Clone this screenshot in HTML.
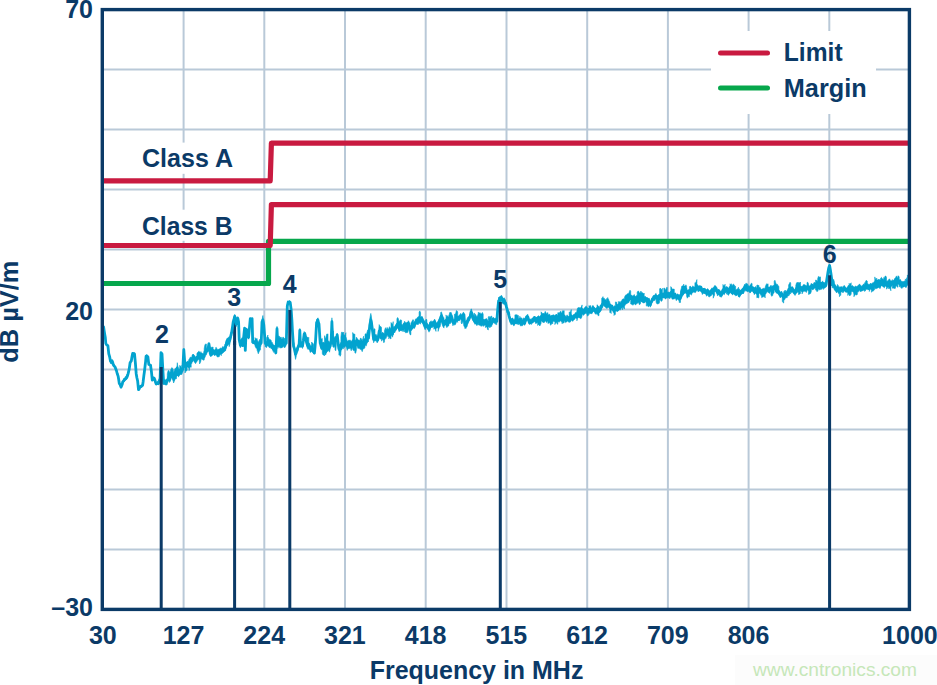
<!DOCTYPE html>
<html><head><meta charset="utf-8"><title>chart</title>
<style>
html,body{margin:0;padding:0;background:#fff;}
body{width:937px;height:685px;overflow:hidden;font-family:"Liberation Sans",sans-serif;}
svg{display:block;}
text{font-family:"Liberation Sans",sans-serif;font-weight:bold;font-size:25px;fill:#0b3a67;}
</style></head><body>
<svg width="937" height="685" viewBox="0 0 937 685">
<rect width="937" height="685" fill="#fff"/>
<g stroke="#b9c9d8" stroke-width="2" fill="none">
<line x1="183.6" y1="9.6" x2="183.6" y2="609.4"/>
<line x1="102.3" y1="69.6" x2="909.4" y2="69.6"/>
<line x1="264.3" y1="9.6" x2="264.3" y2="609.4"/>
<line x1="102.3" y1="129.6" x2="909.4" y2="129.6"/>
<line x1="345.0" y1="9.6" x2="345.0" y2="609.4"/>
<line x1="102.3" y1="189.5" x2="909.4" y2="189.5"/>
<line x1="425.7" y1="9.6" x2="425.7" y2="609.4"/>
<line x1="102.3" y1="249.5" x2="909.4" y2="249.5"/>
<line x1="506.5" y1="9.6" x2="506.5" y2="609.4"/>
<line x1="102.3" y1="309.5" x2="909.4" y2="309.5"/>
<line x1="587.2" y1="9.6" x2="587.2" y2="609.4"/>
<line x1="102.3" y1="369.5" x2="909.4" y2="369.5"/>
<line x1="667.9" y1="9.6" x2="667.9" y2="609.4"/>
<line x1="102.3" y1="429.5" x2="909.4" y2="429.5"/>
<line x1="748.6" y1="9.6" x2="748.6" y2="609.4"/>
<line x1="102.3" y1="489.4" x2="909.4" y2="489.4"/>
<line x1="829.3" y1="9.6" x2="829.3" y2="609.4"/>
<line x1="102.3" y1="549.4" x2="909.4" y2="549.4"/>
</g>
<!-- white label backgrounds -->
<rect x="711" y="31" width="165" height="83" fill="#fff"/>
<rect x="138" y="142.6" width="98" height="31.2" fill="#fff"/>
<rect x="138" y="209.7" width="98" height="31.1" fill="#fff"/>
<!-- margin -->
<path d="M102.3 283.5 L268.5 283.5 L268.5 241.3 L909.4 241.3" fill="none" stroke="#06a74c" stroke-width="5.2" stroke-linejoin="round"/>
<!-- class A / B limits -->
<path d="M102.3 180.8 L270.2 180.8 L271.4 143.1 L909.4 143.1" fill="none" stroke="#c91a40" stroke-width="5.2" stroke-linejoin="round"/>
<path d="M102.3 245.5 L270.2 245.5 L271.4 204.6 L909.4 204.6" fill="none" stroke="#c91a40" stroke-width="5.2" stroke-linejoin="round"/>
<line x1="234.6" y1="318" x2="234.6" y2="345" stroke="#0b3a67" stroke-width="3"/>
<!-- trace -->
<path d="M103.6 326.2 L104.1 328.9 L104.7 332.8 L105.3 335.9 L105.3 337.1 L105.8 343.0 L106.5 344.2 L107.2 344.8 L107.9 345.3 L108.8 353.5 L108.8 353.1 L109.7 355.9 L110.5 360.0 L111.1 360.6 L111.7 360.3 L111.7 359.6 L112.3 359.5 L113.0 361.9 L113.0 362.6 L113.8 364.4 L114.5 365.5 L114.5 365.5 L115.2 366.5 L115.8 368.3 L116.4 369.8 L116.4 369.5 L117.2 372.7 L118.1 375.4 L118.7 379.0 L119.3 382.5 L120.2 384.0 L120.2 384.0 L121.0 386.2 L121.6 385.1 L122.2 383.1 L122.2 383.1 L122.8 380.6 L123.6 379.8 L123.6 379.0 L124.3 378.1 L125.1 377.4 L125.1 376.8 L125.9 376.5 L126.6 375.0 L127.4 373.6 L127.4 374.8 L128.0 372.7 L128.6 370.5 L129.2 368.5 L130.1 362.1 L130.1 362.3 L130.7 361.3 L131.3 360.2 L132.0 356.0 L132.7 352.6 L132.7 353.0 L133.3 353.3 L133.9 353.3 L133.9 353.3 L134.5 353.5 L135.4 362.8 L136.2 373.0 L136.9 377.2 L136.9 377.2 L137.6 380.3 L138.5 388.5 L139.1 387.7 L139.7 386.4 L140.3 385.4 L140.3 385.3 L141.1 385.5 L141.8 384.5 L142.6 384.2 L142.6 385.0 L143.2 380.8 L143.8 375.7 L144.4 371.2 L144.4 370.6 L145.0 365.8 L145.6 360.5 L146.1 355.3 L146.7 354.7 L147.3 355.7 L147.3 356.3 L147.9 356.5 L148.8 364.1 L149.7 364.4 L150.5 364.7 L150.5 364.7 L151.4 371.1 L152.3 379.2 L153.0 377.8 L153.0 377.7 L153.6 377.2 L154.3 377.3 L154.9 379.0 L155.5 380.8 L156.1 382.9 L156.1 382.8 L156.9 382.2 L157.6 381.9 L158.4 382.7 L158.4 382.9 L159.2 380.3 L160.1 378.1 L161.0 352.4 L161.0 352.4 L162.0 353.6 L162.8 368.9 L163.7 383.0 L163.7 381.2 L164.4 379.7 L165.1 379.7 L165.1 380.8 L165.9 379.5 L166.6 379.3 L167.3 378.8 L167.3 373.8 L168.0 370.9 L168.7 370.3 L169.4 371.7 L169.4 372.9 L170.1 372.0 L170.9 369.5 L170.9 369.8 L171.8 367.6 L172.4 368.0 L173.0 370.3 L173.0 369.4 L173.6 372.4 L174.3 370.7 L175.1 368.4 L175.8 368.2 L176.5 368.1 L176.5 372.3 L177.3 362.7 L177.9 366.9 L177.9 369.5 L178.5 372.4 L179.1 369.5 L179.7 368.2 L179.7 365.4 L180.5 366.6 L181.2 365.5 L181.2 367.7 L182.0 367.4 L182.8 367.9 L183.8 348.6 L183.8 348.9 L184.4 357.3 L185.0 364.3 L185.7 362.3 L186.4 362.2 L187.1 361.9 L187.1 361.6 L187.8 361.0 L188.5 362.3 L189.1 361.7 L189.1 360.9 L189.8 357.9 L190.5 357.0 L191.2 357.4 L191.2 358.3 L191.8 357.3 L192.5 358.7 L193.1 354.0 L194.0 355.7 L194.7 356.1 L194.7 355.7 L195.5 357.5 L196.2 356.4 L196.9 355.4 L196.9 353.3 L197.7 352.6 L198.4 352.2 L198.4 356.0 L198.9 350.9 L199.6 354.6 L200.3 353.4 L200.9 351.6 L200.9 352.3 L201.6 352.9 L202.2 353.4 L202.9 353.2 L203.5 354.1 L204.2 353.7 L204.2 348.6 L204.9 344.9 L205.6 343.9 L206.4 344.1 L206.4 349.4 L207.1 347.4 L207.8 347.2 L208.4 344.5 L208.4 343.9 L208.9 342.6 L209.6 346.3 L210.2 351.9 L210.2 347.8 L210.9 348.7 L211.7 347.0 L212.4 347.2 L213.1 347.0 L213.1 349.7 L213.7 349.1 L214.4 350.3 L215.0 350.6 L215.7 348.6 L215.7 347.6 L216.3 347.4 L217.0 349.3 L217.7 349.4 L218.4 349.4 L219.1 349.5 L219.1 350.8 L219.8 348.6 L220.6 347.9 L221.3 349.5 L221.3 348.7 L222.0 348.0 L222.7 346.5 L223.4 346.7 L224.1 347.9 L224.9 345.5 L224.9 344.2 L225.6 343.4 L226.4 340.2 L226.4 340.0 L227.1 338.1 L227.8 338.3 L228.5 337.3 L229.2 336.6 L229.2 337.8 L229.9 338.0 L230.8 334.1 L231.6 331.4 L231.6 332.0 L232.4 327.0 L233.2 320.7 L233.9 318.1 L233.9 318.1 L234.7 314.3 L235.7 317.1 L235.7 317.8 L236.2 321.7 L236.9 319.0 L237.8 317.0 L237.8 316.6 L238.6 321.2 L239.2 338.1 L239.8 340.4 L240.4 343.8 L240.4 343.1 L241.0 341.8 L241.6 339.0 L242.2 337.5 L242.2 338.6 L242.7 344.6 L243.3 339.4 L243.3 339.7 L243.9 334.2 L244.6 327.4 L244.6 327.5 L245.3 349.7 L246.2 328.5 L247.2 329.5 L247.2 329.0 L247.9 333.3 L248.6 336.9 L249.4 327.6 L249.4 327.6 L250.3 318.1 L250.9 318.1 L251.5 318.4 L251.5 318.5 L252.1 318.2 L252.7 340.6 L253.5 340.6 L253.5 340.4 L254.2 340.8 L255.0 340.5 L255.0 337.6 L255.7 339.1 L256.3 339.0 L257.0 338.3 L257.0 339.0 L257.6 340.5 L258.3 342.7 L259.0 340.8 L259.8 339.3 L260.5 338.5 L260.5 336.9 L261.2 340.8 L262.0 319.8 L262.9 315.5 L263.8 322.8 L264.5 331.9 L264.5 333.3 L265.2 341.2 L265.9 341.1 L266.6 342.0 L266.6 337.7 L267.2 336.8 L267.9 335.0 L267.9 336.7 L268.6 337.8 L269.2 339.6 L269.9 339.4 L270.6 339.7 L271.3 340.7 L271.3 342.5 L272.0 341.9 L272.8 343.7 L273.5 345.9 L273.5 345.9 L274.2 345.0 L274.9 346.0 L274.9 345.5 L275.8 351.3 L276.3 342.2 L277.0 326.9 L277.0 326.3 L277.8 338.7 L278.5 337.1 L278.5 336.0 L279.2 336.0 L279.9 337.6 L280.7 337.3 L281.4 337.3 L281.4 339.0 L282.1 339.0 L282.8 337.2 L283.5 337.2 L284.2 339.0 L284.9 338.2 L284.9 341.7 L285.6 340.6 L286.3 342.1 L287.3 304.1 L288.2 301.1 L288.9 301.6 L288.9 301.3 L289.5 300.6 L290.2 301.2 L291.2 308.8 L291.2 307.9 L291.9 318.8 L292.5 329.9 L293.5 341.8 L294.2 343.5 L294.2 345.4 L294.8 349.1 L295.5 351.1 L296.2 348.4 L296.2 349.4 L297.0 348.0 L297.7 345.5 L298.4 343.2 L298.4 339.8 L299.2 343.0 L299.8 328.4 L300.5 344.0 L300.5 345.1 L301.2 345.1 L301.8 345.3 L302.5 345.1 L302.5 343.6 L303.4 338.1 L304.2 331.5 L304.2 331.6 L304.8 332.3 L305.4 334.8 L305.4 332.5 L306.0 335.3 L306.7 337.7 L306.7 336.7 L307.4 337.1 L308.1 338.0 L308.8 337.3 L308.8 342.2 L309.5 343.5 L310.2 346.1 L310.9 345.6 L311.6 345.2 L311.6 342.0 L312.3 343.1 L313.0 343.3 L313.7 344.9 L313.7 347.8 L314.4 351.8 L315.0 345.4 L315.6 338.8 L315.6 338.9 L316.6 319.5 L317.2 318.8 L317.9 317.8 L318.4 320.6 L318.4 320.7 L319.0 322.9 L319.6 332.9 L320.2 342.0 L320.2 336.7 L320.9 338.9 L321.6 339.0 L322.3 338.5 L322.3 341.7 L323.0 342.6 L323.8 342.1 L324.5 342.9 L324.5 335.7 L325.2 338.8 L325.9 337.3 L326.6 334.2 L327.3 334.3 L328.0 333.8 L328.0 341.3 L328.8 340.9 L329.5 342.5 L330.2 342.2 L331.2 336.2 L331.2 336.1 L331.9 317.8 L332.7 330.3 L333.5 331.1 L333.5 337.5 L334.2 337.8 L335.0 336.3 L335.0 336.2 L335.8 336.8 L336.5 338.3 L337.2 333.1 L338.0 340.3 L338.9 347.2 L338.9 344.8 L339.5 344.3 L340.2 345.9 L340.9 344.1 L340.9 337.0 L341.5 332.2 L342.2 332.0 L343.0 333.3 L343.7 332.1 L343.7 334.1 L344.4 335.2 L345.2 334.7 L345.9 332.7 L345.9 336.3 L346.6 339.1 L347.2 341.3 L347.2 342.1 L347.9 340.9 L348.5 340.2 L349.2 340.4 L349.2 340.8 L349.9 339.8 L350.5 340.4 L351.2 342.7 L351.9 341.0 L352.7 339.0 L352.7 332.5 L353.4 334.0 L354.2 334.1 L354.9 334.2 L354.9 340.0 L355.7 340.4 L356.4 337.2 L356.4 338.0 L357.1 337.9 L357.9 340.8 L357.9 339.9 L358.6 339.9 L359.3 340.0 L360.1 341.1 L360.1 338.6 L360.8 338.1 L361.5 338.9 L362.2 340.7 L362.9 338.5 L363.6 336.2 L363.6 339.2 L364.3 339.1 L365.0 337.9 L365.0 334.2 L365.7 333.7 L366.4 334.3 L366.4 334.5 L367.1 331.9 L367.8 329.8 L368.5 331.1 L368.5 336.9 L369.1 330.9 L369.8 323.9 L369.8 318.5 L370.8 313.4 L371.4 316.2 L371.9 322.8 L372.8 329.5 L372.8 329.7 L373.6 330.7 L374.3 328.7 L375.0 329.0 L375.0 334.8 L375.7 334.5 L376.3 334.5 L377.0 336.6 L377.7 336.2 L378.4 334.1 L378.4 333.7 L379.2 324.6 L380.0 326.7 L380.8 326.4 L381.5 327.5 L381.5 334.1 L382.3 332.5 L383.0 332.3 L383.8 335.6 L384.5 334.5 L384.5 330.6 L385.2 328.5 L385.9 327.6 L385.9 331.3 L386.6 328.9 L387.3 327.5 L388.0 329.7 L388.8 328.4 L388.8 328.4 L389.5 326.7 L390.3 328.1 L391.0 328.6 L391.0 322.5 L391.8 323.6 L392.5 325.0 L393.2 321.6 L393.2 328.0 L394.0 326.2 L394.7 327.2 L395.4 325.5 L396.2 323.9 L396.9 323.0 L396.9 318.8 L397.6 317.5 L398.3 318.5 L398.9 321.5 L399.6 321.3 L400.3 319.9 L400.3 319.7 L401.0 320.3 L401.6 320.2 L401.6 324.5 L402.3 324.3 L403.0 325.9 L403.7 324.9 L404.3 322.0 L404.3 321.6 L405.0 321.6 L405.6 322.9 L406.3 322.5 L406.3 322.9 L407.0 322.8 L407.6 322.9 L408.3 320.7 L408.3 320.7 L408.9 321.5 L409.6 324.8 L410.2 326.5 L410.9 326.2 L410.9 323.1 L411.6 321.9 L412.2 321.0 L412.9 319.5 L413.5 320.0 L413.5 322.6 L414.2 323.3 L414.9 321.0 L415.5 318.9 L416.2 318.9 L416.9 318.6 L416.9 317.9 L417.6 317.3 L418.4 317.5 L419.1 315.4 L419.1 312.1 L419.8 310.9 L420.6 312.7 L420.6 316.9 L421.3 317.0 L422.0 316.1 L422.7 318.5 L423.4 319.5 L423.4 319.4 L424.1 321.1 L424.8 323.4 L425.5 323.5 L425.5 320.4 L426.2 319.0 L426.9 319.9 L426.9 323.0 L427.6 323.9 L428.3 324.7 L429.0 326.9 L429.7 325.1 L429.7 324.9 L430.4 321.4 L431.1 320.7 L431.8 321.9 L432.5 321.2 L432.5 321.2 L433.2 321.3 L433.9 320.9 L433.9 320.5 L434.6 319.1 L435.3 320.5 L436.0 322.5 L436.0 323.4 L436.7 322.6 L437.4 322.4 L438.1 323.0 L438.1 322.0 L438.8 319.5 L439.4 318.1 L440.1 317.5 L440.7 314.3 L440.7 312.5 L441.4 311.8 L442.0 313.7 L442.6 315.8 L443.3 317.0 L444.0 317.9 L444.0 320.0 L444.6 320.4 L445.3 319.0 L446.0 319.2 L446.0 314.9 L446.6 316.8 L447.3 316.6 L447.9 315.5 L447.9 316.8 L448.6 316.9 L449.2 314.5 L449.9 312.3 L449.9 312.5 L450.6 312.5 L451.2 312.4 L451.8 314.3 L452.4 315.7 L453.0 318.3 L453.0 320.0 L453.7 319.8 L454.4 319.2 L454.4 314.2 L455.0 314.6 L455.7 313.2 L456.4 310.6 L457.1 311.0 L457.7 311.9 L457.7 316.8 L458.4 315.9 L459.1 315.6 L459.1 315.2 L459.8 315.0 L460.5 313.5 L461.2 313.8 L461.2 314.5 L461.8 315.8 L462.5 314.2 L463.2 312.2 L463.9 312.6 L463.9 313.9 L464.8 323.0 L465.5 322.7 L466.1 322.9 L466.1 322.0 L466.8 319.7 L467.5 317.5 L468.1 317.8 L468.8 317.3 L469.5 315.4 L469.5 315.4 L470.3 313.4 L471.0 308.9 L471.6 309.1 L471.6 309.5 L472.3 312.5 L472.9 315.0 L473.6 315.5 L474.2 316.7 L474.2 312.9 L474.9 314.8 L475.6 314.2 L475.6 315.0 L476.2 315.6 L476.9 317.0 L477.5 315.8 L478.2 313.8 L478.2 312.3 L478.9 312.7 L479.5 313.0 L480.2 312.7 L480.2 312.7 L480.9 313.9 L481.7 313.7 L482.4 312.4 L483.2 314.2 L483.2 319.1 L483.9 320.2 L484.7 319.2 L485.4 319.2 L485.4 319.2 L486.1 318.7 L486.9 318.7 L487.6 321.2 L488.3 321.8 L488.3 317.1 L489.1 316.2 L489.8 317.7 L490.4 317.0 L491.1 316.1 L491.8 316.2 L491.8 321.0 L492.4 319.8 L493.1 317.5 L493.1 317.5 L493.9 317.8 L494.6 319.0 L495.3 318.6 L495.3 318.0 L496.1 318.5 L496.8 318.5 L496.8 319.0 L497.4 311.2 L498.0 304.1 L498.0 305.3 L498.6 297.6 L499.2 297.1 L499.2 298.0 L499.9 296.4 L500.6 296.2 L501.2 295.6 L501.2 295.4 L501.9 295.7 L502.7 298.0 L503.4 298.7 L503.4 298.6 L504.1 297.7 L504.9 299.5 L505.6 301.3 L506.3 304.4 L507.0 307.5 L507.0 307.5 L507.7 309.5 L508.4 310.8 L508.4 310.8 L509.1 314.4 L510.0 317.8 L510.0 317.3 L510.8 318.5 L511.5 318.8 L511.5 318.6 L512.2 318.1 L512.9 318.1 L513.6 320.1 L514.2 320.0 L514.9 317.9 L514.9 314.9 L515.6 314.8 L516.3 315.0 L517.0 314.5 L517.7 315.5 L518.4 315.5 L518.4 319.4 L519.1 317.7 L519.8 318.5 L519.8 316.2 L520.5 318.2 L521.2 318.0 L521.9 317.9 L521.9 319.5 L522.6 319.4 L523.3 317.9 L524.0 318.4 L524.8 319.0 L525.5 316.6 L525.5 316.9 L526.3 315.4 L527.0 315.2 L527.8 314.2 L527.8 314.8 L528.6 318.1 L529.3 319.7 L530.1 319.1 L530.8 319.2 L531.5 319.6 L531.5 318.9 L532.2 317.9 L532.9 317.9 L532.9 318.5 L533.6 317.8 L534.3 316.1 L535.0 317.2 L535.0 316.3 L535.7 318.0 L536.4 317.1 L536.4 317.4 L537.0 316.8 L537.7 316.8 L537.7 316.8 L538.4 315.7 L539.1 316.0 L539.8 317.3 L540.5 316.0 L541.1 314.6 L541.1 311.8 L541.8 312.8 L542.5 313.4 L543.2 313.6 L543.2 313.0 L543.9 314.0 L544.5 313.3 L545.2 311.4 L545.9 312.1 L545.9 313.0 L546.6 314.0 L547.2 313.0 L547.9 312.6 L547.9 314.9 L548.6 314.8 L549.3 313.9 L549.9 314.7 L549.9 314.9 L550.6 316.9 L551.3 316.2 L552.0 314.9 L552.8 315.4 L552.8 315.2 L553.5 314.8 L554.2 314.9 L554.9 315.8 L554.9 316.7 L555.6 315.1 L556.4 314.2 L557.1 316.0 L557.8 316.5 L557.8 312.7 L558.5 312.7 L559.3 313.2 L560.0 311.7 L560.7 311.5 L560.7 311.2 L561.4 313.0 L562.1 312.4 L562.1 311.8 L562.8 310.5 L563.5 310.9 L564.2 310.7 L564.2 314.4 L564.9 314.9 L565.7 316.9 L566.4 316.3 L567.1 314.8 L567.1 315.1 L567.8 316.0 L568.5 316.4 L569.2 315.9 L569.2 311.9 L569.9 312.5 L570.6 311.4 L571.3 309.6 L571.3 314.0 L572.0 315.3 L572.7 316.0 L573.4 314.6 L573.4 314.9 L574.1 314.5 L574.8 313.8 L575.5 312.4 L576.2 313.1 L576.9 313.1 L576.9 310.7 L577.6 308.1 L578.3 307.4 L579.1 307.9 L579.8 307.6 L580.6 308.6 L580.6 307.5 L581.3 307.1 L582.1 304.9 L582.1 307.8 L582.8 308.5 L583.5 309.3 L584.2 308.3 L584.2 307.9 L584.8 307.6 L585.5 307.2 L586.2 305.8 L586.2 306.4 L586.9 307.3 L587.5 309.2 L588.2 308.5 L588.9 307.6 L588.9 305.5 L589.6 306.1 L590.2 305.7 L590.9 305.7 L590.9 307.1 L591.6 308.2 L592.3 307.2 L593.0 305.2 L593.0 305.9 L593.6 306.6 L594.3 307.8 L595.0 307.6 L595.0 307.7 L595.7 308.4 L596.3 308.5 L597.0 307.0 L597.0 304.7 L597.7 305.3 L598.4 306.9 L599.0 306.0 L599.0 308.7 L599.7 307.5 L600.4 307.5 L601.0 305.0 L601.7 303.2 L601.7 298.2 L602.4 298.2 L603.0 296.6 L603.0 299.1 L603.7 297.8 L604.4 298.4 L605.0 299.7 L605.7 299.7 L606.4 300.4 L606.4 298.7 L607.1 299.1 L607.7 297.5 L607.7 298.9 L608.4 298.8 L609.1 301.0 L609.8 301.7 L609.8 303.8 L610.5 303.8 L611.2 304.8 L611.2 305.5 L611.9 305.2 L612.6 305.5 L613.3 307.8 L614.0 307.7 L614.0 307.1 L614.7 305.6 L615.4 306.2 L615.4 301.9 L616.1 302.5 L616.8 301.8 L616.8 303.6 L617.5 304.4 L618.2 303.5 L618.9 301.2 L618.9 301.7 L619.6 302.0 L620.3 302.5 L621.0 301.2 L621.0 301.4 L621.7 300.7 L622.4 299.3 L622.4 300.9 L623.1 298.6 L623.8 299.1 L624.5 300.1 L624.5 297.2 L625.2 295.8 L625.9 294.8 L626.5 294.9 L627.2 294.0 L627.9 294.1 L627.9 293.2 L628.6 293.9 L629.3 291.7 L630.0 290.2 L630.7 291.2 L630.7 295.0 L631.5 295.3 L632.2 295.4 L632.9 296.4 L633.6 295.2 L634.3 294.9 L634.3 294.5 L635.0 296.6 L635.8 296.7 L636.5 295.5 L637.2 295.5 L637.2 292.1 L637.9 291.2 L638.6 291.1 L639.3 293.1 L640.0 292.9 L640.7 291.6 L640.7 291.1 L641.4 292.0 L642.1 292.7 L642.8 292.8 L643.5 293.8 L644.2 293.1 L644.2 298.0 L644.9 296.0 L645.6 296.8 L646.3 298.0 L646.3 298.0 L647.0 297.4 L647.7 297.8 L648.4 298.6 L649.0 298.4 L649.0 297.9 L649.6 299.6 L650.3 302.2 L651.0 300.3 L651.8 297.9 L652.5 297.2 L652.5 297.2 L653.2 295.6 L654.0 295.3 L654.7 295.5 L654.7 295.6 L655.4 293.9 L656.1 293.3 L656.1 293.8 L656.8 295.4 L657.5 295.6 L658.2 295.3 L658.9 295.5 L659.6 293.7 L659.6 289.0 L660.3 288.0 L661.0 289.6 L661.7 289.6 L662.4 288.3 L662.4 292.6 L663.1 292.9 L663.8 292.6 L663.8 288.1 L664.5 288.0 L665.2 289.8 L665.9 289.5 L666.6 287.4 L667.3 287.5 L667.3 291.9 L668.0 292.3 L668.7 291.9 L669.4 292.6 L670.1 292.4 L670.8 290.8 L670.8 286.6 L671.5 287.6 L672.2 289.3 L672.9 289.1 L673.6 289.1 L674.3 289.2 L674.3 294.0 L675.0 292.9 L675.7 293.9 L676.4 295.6 L676.4 295.3 L677.1 294.3 L677.8 293.8 L678.5 295.2 L679.2 295.6 L679.2 294.7 L679.9 294.4 L680.5 294.7 L680.5 290.9 L681.2 288.8 L681.8 286.1 L682.5 285.9 L683.1 285.7 L683.8 284.1 L683.8 285.8 L684.5 286.0 L685.2 285.9 L685.9 284.8 L686.6 286.2 L686.6 289.3 L687.3 291.2 L688.0 290.2 L688.7 289.5 L689.4 289.7 L689.4 286.8 L690.1 286.1 L690.8 286.6 L691.5 287.3 L691.5 289.2 L692.2 287.3 L692.8 285.8 L693.5 286.7 L694.2 286.9 L694.9 286.5 L694.9 282.7 L695.5 283.0 L696.2 281.7 L696.9 279.6 L696.9 283.8 L697.6 285.1 L698.3 286.3 L698.9 285.5 L698.9 285.8 L699.6 285.7 L700.3 286.1 L701.0 285.7 L701.6 287.1 L702.3 289.2 L702.3 289.6 L703.0 288.8 L703.7 288.0 L704.3 289.0 L704.3 288.2 L705.0 288.6 L705.6 288.7 L706.3 290.0 L706.3 289.9 L707.0 289.8 L707.6 288.5 L708.3 289.7 L709.0 291.1 L709.7 290.5 L709.7 290.4 L710.4 290.1 L711.1 289.7 L711.1 289.7 L711.8 287.9 L712.5 287.9 L713.2 289.0 L713.2 289.0 L713.9 287.3 L714.6 285.8 L714.6 285.5 L715.3 285.7 L716.0 286.2 L716.7 287.4 L717.3 289.6 L717.3 290.5 L718.0 290.2 L718.7 289.1 L719.4 290.5 L720.0 291.6 L720.7 291.5 L720.7 290.7 L721.4 291.5 L722.1 290.0 L722.9 287.8 L722.9 284.5 L723.6 285.4 L724.3 286.0 L725.1 284.2 L725.1 287.4 L725.8 286.7 L726.5 286.6 L726.5 287.3 L727.2 286.7 L727.9 288.2 L728.6 288.5 L729.3 286.5 L730.0 286.6 L730.0 283.8 L730.7 285.0 L731.4 285.2 L731.4 283.7 L732.1 284.9 L732.8 285.4 L733.5 283.9 L733.5 284.4 L734.2 284.8 L734.9 286.6 L735.6 286.2 L735.6 289.9 L736.3 289.4 L737.0 289.7 L737.0 289.4 L737.7 288.5 L738.4 289.4 L738.4 287.2 L739.1 289.6 L739.8 289.3 L739.8 291.9 L740.5 290.1 L741.1 289.9 L741.8 289.3 L741.8 289.0 L742.5 288.0 L743.1 288.2 L743.1 288.6 L743.8 287.4 L744.4 284.6 L745.1 284.0 L745.8 285.8 L745.8 283.3 L746.5 283.4 L747.2 283.8 L747.9 284.3 L747.9 286.7 L748.6 285.5 L749.3 286.0 L750.0 287.8 L750.0 285.3 L750.7 284.4 L751.4 283.2 L752.1 283.6 L752.1 286.6 L752.8 286.3 L753.5 287.0 L754.1 289.0 L754.1 288.0 L754.8 287.8 L755.5 286.5 L756.2 287.5 L756.8 288.5 L756.8 285.3 L757.5 285.1 L758.2 285.6 L758.9 285.3 L758.9 288.6 L759.5 286.9 L760.2 287.6 L760.9 289.7 L761.6 289.2 L761.6 289.3 L762.4 288.8 L763.1 289.0 L763.8 287.9 L764.5 288.6 L765.2 289.6 L765.2 287.1 L766.0 284.9 L766.7 283.7 L767.4 284.2 L768.1 283.8 L768.1 286.6 L768.9 287.3 L769.6 287.8 L770.3 286.1 L770.9 285.8 L770.9 285.0 L771.6 286.6 L772.2 286.5 L772.9 285.5 L772.9 286.2 L773.6 286.1 L774.2 284.9 L774.2 281.4 L774.9 280.2 L775.6 282.5 L776.2 284.4 L776.9 284.0 L777.5 284.4 L777.5 284.4 L778.2 285.9 L778.9 286.3 L778.9 290.0 L779.5 291.2 L780.2 293.0 L780.9 292.1 L781.6 291.1 L782.3 292.8 L782.3 292.7 L783.0 293.9 L783.7 294.4 L783.7 291.6 L784.4 291.6 L785.1 290.1 L785.1 292.2 L785.8 290.5 L786.5 291.5 L787.2 291.4 L787.2 291.2 L787.9 288.8 L788.6 287.6 L788.6 285.0 L789.3 283.8 L790.0 282.2 L790.7 282.9 L790.7 286.2 L791.5 287.5 L792.2 286.4 L792.2 286.5 L793.0 287.8 L793.7 289.2 L794.5 289.7 L794.5 289.0 L795.2 289.4 L795.8 288.1 L795.8 285.3 L796.5 283.0 L797.1 283.2 L797.1 282.1 L797.8 283.1 L798.5 282.3 L798.5 283.4 L799.1 282.8 L799.8 282.8 L800.5 282.0 L800.5 285.3 L801.2 285.9 L802.0 287.7 L802.0 287.2 L802.7 286.0 L803.4 284.5 L804.1 284.9 L804.9 284.4 L804.9 284.7 L805.6 285.3 L806.3 286.3 L807.0 284.8 L807.0 282.5 L807.8 282.2 L808.5 284.0 L808.5 286.3 L809.2 286.1 L809.9 285.6 L810.6 285.4 L811.3 283.4 L811.3 284.2 L812.0 283.7 L812.7 285.2 L813.4 284.6 L813.4 283.6 L814.2 282.3 L814.9 282.7 L815.6 282.4 L815.6 280.0 L816.3 280.1 L817.0 281.5 L817.7 280.2 L817.7 278.6 L818.4 276.4 L819.1 276.8 L819.8 277.2 L820.5 276.9 L820.5 281.7 L821.2 282.6 L821.9 281.9 L822.6 280.9 L823.3 282.7 L823.3 282.0 L824.0 283.3 L824.7 282.3 L825.4 282.1 L826.1 281.9 L826.1 283.8 L826.7 279.1 L827.4 275.1 L828.0 271.0 L828.0 269.9 L828.8 266.3 L829.6 264.5 L830.3 268.8 L830.3 268.7 L831.0 272.9 L831.6 277.7 L832.2 283.7 L832.2 279.9 L832.9 279.5 L833.7 279.4 L834.4 282.0 L834.4 283.7 L835.1 284.8 L835.9 285.4 L836.6 286.9 L837.3 285.9 L837.3 284.6 L838.0 284.9 L838.7 287.1 L839.4 286.7 L839.4 288.3 L840.1 286.8 L840.8 286.9 L840.8 287.2 L841.5 286.7 L842.2 286.5 L842.9 287.7 L843.6 287.0 L844.3 285.2 L844.3 285.8 L845.0 286.9 L845.7 288.0 L846.4 287.8 L847.1 288.3 L847.8 287.7 L847.8 286.8 L848.5 285.1 L849.1 285.8 L849.1 283.3 L849.8 284.5 L850.5 283.5 L851.2 282.8 L851.2 285.5 L851.8 285.9 L852.5 285.5 L853.2 286.2 L853.9 288.1 L853.9 288.3 L854.5 287.5 L855.2 285.9 L855.9 286.4 L856.6 286.5 L857.4 285.9 L857.4 285.8 L858.1 286.4 L858.8 285.2 L859.5 283.9 L860.2 285.7 L860.2 285.7 L861.0 286.5 L861.7 285.7 L862.4 285.8 L863.1 284.8 L863.1 284.6 L863.9 283.8 L864.6 285.4 L864.6 282.8 L865.3 282.4 L866.0 280.5 L866.6 280.6 L867.3 281.1 L867.3 283.7 L868.0 283.6 L868.7 284.8 L869.3 285.1 L869.3 286.0 L870.0 284.0 L870.7 283.6 L871.4 284.7 L871.4 283.9 L872.0 283.4 L872.7 282.8 L873.4 282.9 L874.1 281.5 L874.8 281.2 L874.8 276.9 L875.4 279.0 L876.1 279.4 L876.8 278.1 L876.8 280.0 L877.5 280.0 L878.1 279.8 L878.8 279.0 L879.5 279.9 L879.5 279.8 L880.2 280.0 L880.8 277.9 L881.5 277.3 L881.5 277.5 L882.2 278.8 L882.9 279.0 L883.7 279.5 L883.7 277.4 L884.4 277.9 L885.1 276.1 L885.8 276.0 L886.5 277.6 L886.5 282.1 L887.3 281.2 L888.0 280.2 L888.7 280.2 L888.7 279.7 L889.5 278.8 L890.2 279.9 L890.9 281.6 L890.9 282.1 L891.6 280.7 L892.3 279.6 L892.3 280.2 L893.0 280.8 L893.7 280.2 L894.4 280.1 L894.4 278.8 L895.1 279.1 L895.8 277.1 L896.5 275.9 L897.2 277.5 L897.9 277.8 L897.9 275.8 L898.6 276.0 L899.2 277.1 L899.2 279.9 L899.9 279.8 L900.5 279.5 L901.2 281.3 L901.2 281.0 L901.9 282.4 L902.5 281.3 L902.5 281.9 L903.2 281.6 L903.9 281.6 L904.6 281.0 L905.3 281.6 L905.3 278.9 L906.0 279.9 L906.7 278.1 L907.4 277.0 L907.4 274.9 L908.1 282.2 L908.1 282.2 L907.4 285.1 L907.4 284.9 L906.7 286.1 L906.0 287.8 L905.3 286.8 L905.3 287.1 L904.6 286.4 L903.9 287.1 L903.2 287.0 L902.5 287.3 L902.5 287.4 L901.9 288.5 L901.2 287.2 L901.2 288.1 L900.5 286.3 L899.9 286.6 L899.2 286.7 L899.2 285.2 L898.6 284.2 L897.9 283.9 L897.9 287.3 L897.2 287.0 L896.5 285.4 L895.8 286.6 L895.1 288.7 L894.4 288.4 L894.4 287.9 L893.7 288.0 L893.0 288.6 L892.3 288.0 L892.3 284.9 L891.6 285.9 L890.9 287.4 L890.9 290.8 L890.2 289.1 L889.5 288.0 L888.7 288.9 L888.7 287.3 L888.0 287.3 L887.3 288.2 L886.5 289.2 L886.5 287.5 L885.8 285.9 L885.1 286.0 L884.4 287.8 L883.7 287.3 L883.7 286.8 L882.9 286.3 L882.2 286.1 L881.5 284.9 L881.5 285.8 L880.8 286.4 L880.2 288.5 L879.5 288.3 L879.5 288.1 L878.8 287.1 L878.1 287.9 L877.5 288.1 L876.8 288.2 L876.8 287.7 L876.1 289.0 L875.4 288.5 L874.8 286.5 L874.8 289.4 L874.1 289.8 L873.4 291.1 L872.7 291.1 L872.0 291.7 L871.4 292.2 L871.4 290.2 L870.7 289.0 L870.0 289.4 L869.3 291.5 L869.3 290.3 L868.7 290.0 L868.0 288.8 L867.3 288.9 L867.3 289.7 L866.6 289.2 L866.0 289.1 L865.3 291.0 L864.6 291.4 L864.6 291.4 L863.9 289.8 L863.1 290.6 L863.1 289.9 L862.4 291.0 L861.7 290.9 L861.0 291.7 L860.2 290.9 L860.2 291.6 L859.5 289.8 L858.8 291.1 L858.1 292.3 L857.4 291.7 L857.4 294.4 L856.6 294.9 L855.9 294.9 L855.2 294.3 L854.5 296.0 L853.9 296.7 L853.9 294.0 L853.2 292.1 L852.5 291.4 L851.8 291.8 L851.2 291.4 L851.2 294.2 L850.5 294.9 L849.8 296.0 L849.1 294.7 L849.1 294.5 L848.5 293.8 L847.8 295.5 L847.8 292.1 L847.1 292.7 L846.4 292.1 L845.7 292.3 L845.0 291.2 L844.3 290.1 L844.3 290.4 L843.6 292.1 L842.9 292.9 L842.2 291.6 L841.5 291.9 L840.8 292.3 L840.8 295.3 L840.1 295.2 L839.4 296.7 L839.4 293.5 L838.7 293.8 L838.0 291.6 L837.3 291.4 L837.3 292.0 L836.6 293.0 L835.9 291.5 L835.1 290.9 L834.4 289.8 L834.4 290.0 L833.7 287.4 L832.9 287.5 L832.2 288.0 L832.2 287.0 L831.6 281.1 L831.0 276.2 L830.3 272.0 L830.3 270.7 L829.6 266.4 L828.8 270.1 L828.0 273.8 L828.0 273.0 L827.4 277.1 L826.7 281.1 L826.1 285.8 L826.1 287.0 L825.4 287.2 L824.7 287.4 L824.0 288.4 L823.3 287.1 L823.3 289.5 L822.6 287.7 L821.9 288.8 L821.2 289.4 L820.5 288.5 L820.5 289.6 L819.8 289.9 L819.1 289.5 L818.4 289.1 L817.7 291.3 L817.7 290.4 L817.0 291.7 L816.3 290.3 L815.6 290.1 L815.6 288.1 L814.9 288.5 L814.2 288.1 L813.4 289.4 L813.4 289.3 L812.7 289.9 L812.0 288.3 L811.3 288.8 L811.3 291.5 L810.6 293.5 L809.9 293.7 L809.2 294.2 L808.5 294.4 L808.5 291.5 L807.8 289.6 L807.0 290.0 L807.0 291.0 L806.3 292.5 L805.6 291.5 L804.9 291.0 L804.9 291.1 L804.1 291.5 L803.4 291.2 L802.7 292.6 L802.0 293.9 L802.0 292.6 L801.2 290.8 L800.5 290.2 L800.5 293.3 L799.8 294.2 L799.1 294.1 L798.5 294.7 L798.5 291.8 L797.8 292.6 L797.1 291.6 L797.1 291.7 L796.5 291.5 L795.8 293.8 L795.8 294.1 L795.2 295.4 L794.5 295.0 L794.5 294.6 L793.7 294.1 L793.0 292.6 L792.2 291.4 L792.2 291.5 L791.5 292.6 L790.7 291.4 L790.7 294.1 L790.0 293.4 L789.3 294.9 L788.6 296.1 L788.6 293.1 L787.9 294.3 L787.2 296.6 L787.2 297.8 L786.5 297.8 L785.8 296.9 L785.1 298.6 L785.1 298.6 L784.4 300.1 L783.7 300.2 L783.7 303.0 L783.0 302.5 L782.3 301.3 L782.3 297.7 L781.6 296.0 L780.9 297.0 L780.2 297.9 L779.5 296.1 L778.9 294.9 L778.9 294.8 L778.2 294.4 L777.5 292.9 L777.5 293.3 L776.9 292.9 L776.2 293.3 L775.6 291.4 L774.9 289.1 L774.2 290.3 L774.2 292.2 L773.6 293.4 L772.9 293.5 L772.9 295.1 L772.2 296.1 L771.6 296.2 L770.9 294.6 L770.9 291.3 L770.3 291.7 L769.6 293.4 L768.9 292.9 L768.1 292.2 L768.1 291.6 L767.4 292.0 L766.7 291.4 L766.0 292.7 L765.2 294.8 L765.2 297.8 L764.5 296.8 L763.8 296.2 L763.1 297.2 L762.4 297.1 L761.6 297.6 L761.6 295.0 L760.9 295.6 L760.2 293.5 L759.5 292.8 L758.9 294.5 L758.9 297.6 L758.2 297.9 L757.5 297.4 L756.8 297.7 L756.8 294.9 L756.2 293.9 L755.5 292.9 L754.8 294.2 L754.1 294.5 L754.1 293.9 L753.5 291.9 L752.8 291.3 L752.1 291.5 L752.1 291.4 L751.4 291.0 L750.7 292.2 L750.0 293.0 L750.0 293.1 L749.3 291.3 L748.6 290.8 L747.9 292.0 L747.9 291.9 L747.2 291.5 L746.5 291.0 L745.8 290.9 L745.8 291.3 L745.1 289.5 L744.4 290.0 L743.8 292.9 L743.1 294.0 L743.1 293.2 L742.5 293.0 L741.8 294.0 L741.8 293.9 L741.1 294.6 L740.5 294.7 L739.8 296.6 L739.8 297.1 L739.1 297.3 L738.4 294.9 L738.4 295.3 L737.7 294.4 L737.0 295.2 L737.0 295.7 L736.3 295.4 L735.6 295.9 L735.6 294.7 L734.9 295.2 L734.2 293.4 L733.5 293.0 L733.5 293.5 L732.8 295.0 L732.1 294.5 L731.4 293.4 L731.4 293.1 L730.7 292.9 L730.0 291.7 L730.0 293.4 L729.3 293.4 L728.6 295.3 L727.9 295.0 L727.2 293.6 L726.5 294.1 L726.5 292.2 L725.8 292.3 L725.1 293.0 L725.1 292.9 L724.3 294.7 L723.6 294.2 L722.9 293.2 L722.9 293.7 L722.1 295.9 L721.4 297.3 L720.7 296.6 L720.7 296.8 L720.0 296.9 L719.4 295.8 L718.7 294.4 L718.0 295.4 L717.3 295.7 L717.3 295.0 L716.7 292.9 L716.0 291.6 L715.3 291.2 L714.6 291.0 L714.6 295.0 L713.9 296.5 L713.2 298.2 L713.2 295.2 L712.5 294.1 L711.8 294.1 L711.1 295.9 L711.1 295.7 L710.4 296.1 L709.7 296.4 L709.7 296.6 L709.0 297.2 L708.3 295.8 L707.6 294.6 L707.0 296.0 L706.3 296.1 L706.3 295.2 L705.6 294.0 L705.0 293.8 L704.3 293.4 L704.3 294.0 L703.7 293.0 L703.0 293.8 L702.3 294.6 L702.3 294.3 L701.6 292.3 L701.0 290.9 L700.3 291.3 L699.6 290.9 L698.9 291.0 L698.9 291.1 L698.3 292.0 L697.6 290.7 L696.9 289.5 L696.9 289.2 L696.2 291.3 L695.5 292.6 L694.9 292.2 L694.9 292.1 L694.2 292.5 L693.5 292.3 L692.8 291.3 L692.2 292.9 L691.5 294.8 L691.5 295.1 L690.8 294.5 L690.1 293.9 L689.4 294.7 L689.4 296.8 L688.7 296.6 L688.0 297.3 L687.3 298.2 L686.6 296.3 L686.6 293.7 L685.9 292.4 L685.2 293.5 L684.5 293.5 L683.8 293.3 L683.8 293.8 L683.1 295.4 L682.5 295.6 L681.8 295.8 L681.2 298.5 L680.5 300.6 L680.5 302.5 L679.9 302.3 L679.2 302.6 L679.2 300.7 L678.5 300.3 L677.8 298.9 L677.1 299.4 L676.4 300.4 L676.4 300.7 L675.7 299.0 L675.0 298.0 L674.3 299.1 L674.3 299.1 L673.6 299.1 L672.9 299.0 L672.2 299.3 L671.5 297.6 L670.8 296.5 L670.8 296.8 L670.1 298.4 L669.4 298.6 L668.7 297.8 L668.0 298.3 L667.3 297.9 L667.3 296.7 L666.6 296.7 L665.9 298.8 L665.2 299.1 L664.5 297.3 L663.8 297.4 L663.8 297.9 L663.1 298.1 L662.4 297.8 L662.4 299.9 L661.7 301.2 L661.0 301.2 L660.3 299.6 L659.6 300.6 L659.6 302.0 L658.9 303.8 L658.2 303.6 L657.5 303.9 L656.8 303.7 L656.1 302.2 L656.1 298.4 L655.4 299.1 L654.7 300.7 L654.7 300.4 L654.0 300.2 L653.2 300.5 L652.5 302.1 L652.5 302.3 L651.8 303.0 L651.0 305.3 L650.3 307.2 L649.6 304.6 L649.0 303.0 L649.0 306.6 L648.4 306.8 L647.7 306.0 L647.0 305.6 L646.3 306.1 L646.3 303.1 L645.6 302.0 L644.9 301.1 L644.2 303.1 L644.2 302.3 L643.5 303.1 L642.8 302.0 L642.1 302.0 L641.4 301.3 L640.7 300.4 L640.7 303.1 L640.0 304.4 L639.3 304.6 L638.6 302.6 L637.9 302.7 L637.2 303.6 L637.2 303.6 L636.5 303.7 L635.8 304.8 L635.0 304.7 L634.3 302.6 L634.3 303.9 L633.6 304.2 L632.9 305.3 L632.2 304.4 L631.5 304.2 L630.7 304.0 L630.7 300.3 L630.0 299.3 L629.3 300.9 L628.6 303.0 L627.9 302.3 L627.9 303.2 L627.2 303.1 L626.5 304.0 L625.9 303.9 L625.2 304.9 L624.5 306.3 L624.5 309.1 L623.8 308.0 L623.1 307.6 L622.4 309.9 L622.4 306.7 L621.7 308.0 L621.0 308.7 L621.0 308.8 L620.3 310.1 L619.6 309.6 L618.9 309.3 L618.9 308.6 L618.2 310.9 L617.5 311.8 L616.8 311.0 L616.8 310.9 L616.1 311.6 L615.4 311.1 L615.4 314.5 L614.7 314.0 L614.0 315.5 L614.0 312.6 L613.3 312.7 L612.6 310.5 L611.9 310.1 L611.2 310.4 L611.2 313.5 L610.5 312.6 L609.8 312.6 L609.8 308.7 L609.1 308.0 L608.4 305.8 L607.7 305.9 L607.7 306.9 L607.1 308.6 L606.4 308.2 L606.4 308.0 L605.7 307.2 L605.0 307.2 L604.4 305.9 L603.7 305.3 L603.0 306.6 L603.0 306.6 L602.4 308.1 L601.7 308.2 L601.7 307.4 L601.0 309.2 L600.4 311.7 L599.7 311.7 L599.0 312.9 L599.0 315.2 L598.4 316.1 L597.7 314.4 L597.0 313.9 L597.0 312.8 L596.3 314.3 L595.7 314.2 L595.0 313.5 L595.0 312.3 L594.3 312.4 L593.6 311.3 L593.0 310.6 L593.0 311.1 L592.3 313.1 L591.6 314.1 L590.9 313.0 L590.9 313.4 L590.2 313.5 L589.6 313.8 L588.9 313.2 L588.9 314.6 L588.2 315.5 L587.5 316.2 L586.9 314.3 L586.2 313.4 L586.2 312.2 L585.5 313.5 L584.8 314.0 L584.2 314.3 L584.2 314.3 L583.5 315.4 L582.8 314.5 L582.1 313.9 L582.1 316.1 L581.3 318.3 L580.6 318.7 L580.6 318.7 L579.8 317.7 L579.1 318.0 L578.3 317.5 L577.6 318.3 L576.9 320.8 L576.9 318.4 L576.2 318.5 L575.5 317.7 L574.8 319.1 L574.1 319.9 L573.4 320.2 L573.4 320.1 L572.7 321.4 L572.0 320.7 L571.3 319.5 L571.3 319.7 L570.6 321.5 L569.9 322.5 L569.2 322.0 L569.2 321.5 L568.5 322.0 L567.8 321.6 L567.1 320.7 L567.1 320.5 L566.4 322.1 L565.7 322.7 L564.9 320.7 L564.2 320.1 L564.2 322.7 L563.5 322.9 L562.8 322.5 L562.1 323.8 L562.1 321.5 L561.4 322.1 L560.7 320.3 L560.7 320.6 L560.0 320.8 L559.3 322.2 L558.5 321.8 L557.8 321.8 L557.8 324.3 L557.1 323.9 L556.4 322.0 L555.6 322.9 L554.9 324.6 L554.9 322.3 L554.2 321.4 L553.5 321.3 L552.8 321.7 L552.8 323.7 L552.0 323.2 L551.3 324.5 L550.6 325.2 L549.9 323.2 L549.9 323.2 L549.3 322.4 L548.6 323.3 L547.9 323.4 L547.9 321.1 L547.2 321.5 L546.6 322.6 L545.9 321.5 L545.9 321.0 L545.2 320.3 L544.5 322.1 L543.9 322.9 L543.2 321.9 L543.2 322.2 L542.5 322.0 L541.8 321.5 L541.1 320.4 L541.1 323.3 L540.5 324.7 L539.8 326.0 L539.1 324.7 L538.4 324.4 L537.7 325.5 L537.7 322.7 L537.0 322.7 L536.4 323.4 L536.4 322.7 L535.7 323.6 L535.0 321.9 L535.0 321.7 L534.3 320.7 L533.6 322.3 L532.9 323.1 L532.9 323.1 L532.2 323.1 L531.5 324.1 L531.5 324.4 L530.8 324.0 L530.1 323.9 L529.3 324.5 L528.6 322.9 L527.8 319.6 L527.8 319.8 L527.0 320.9 L526.3 321.1 L525.5 322.6 L525.5 322.9 L524.8 325.3 L524.0 324.7 L523.3 324.2 L522.6 325.7 L521.9 325.8 L521.9 325.7 L521.2 325.8 L520.5 326.0 L519.8 324.0 L519.8 323.8 L519.1 323.0 L518.4 324.7 L518.4 324.5 L517.7 324.4 L517.0 323.4 L516.3 324.0 L515.6 323.7 L514.9 323.9 L514.9 323.6 L514.2 325.7 L513.6 325.8 L512.9 323.9 L512.2 323.9 L511.5 324.4 L511.5 324.7 L510.8 324.4 L510.0 321.5 L510.0 321.1 L509.1 317.7 L508.4 314.0 L508.4 315.6 L507.7 314.3 L507.0 312.4 L507.0 311.4 L506.3 308.3 L505.6 305.3 L504.9 305.2 L504.1 303.3 L503.4 304.3 L503.4 304.2 L502.7 303.5 L501.9 301.2 L501.2 300.9 L501.2 303.7 L500.6 304.2 L499.9 304.5 L499.2 306.1 L499.2 306.1 L498.6 306.6 L498.0 308.5 L498.0 307.4 L497.4 314.5 L496.8 322.2 L496.8 324.6 L496.1 324.6 L495.3 324.1 L495.3 323.0 L494.6 323.5 L493.9 322.3 L493.1 322.0 L493.1 322.1 L492.4 324.4 L491.8 325.6 L491.8 326.4 L491.1 326.2 L490.4 327.2 L489.8 327.8 L489.1 326.4 L488.3 327.3 L488.3 330.0 L487.6 329.5 L486.9 326.9 L486.1 327.0 L485.4 327.5 L485.4 325.1 L484.7 325.1 L483.9 326.1 L483.2 324.9 L483.2 326.5 L482.4 324.7 L481.7 326.1 L480.9 326.3 L480.2 325.0 L480.2 325.0 L479.5 325.3 L478.9 325.0 L478.2 324.7 L478.2 322.4 L477.5 324.5 L476.9 325.7 L476.2 324.2 L475.6 323.7 L475.6 323.8 L474.9 324.4 L474.2 322.5 L474.2 322.7 L473.6 321.4 L472.9 321.0 L472.3 318.4 L471.6 315.5 L471.6 315.5 L471.0 315.3 L470.3 317.9 L469.5 319.9 L469.5 319.5 L468.8 321.4 L468.1 323.7 L467.5 323.4 L466.8 325.6 L466.1 327.9 L466.1 328.5 L465.5 328.2 L464.8 328.5 L463.9 315.8 L463.9 320.9 L463.2 320.4 L462.5 322.4 L461.8 324.0 L461.2 322.7 L461.2 319.3 L460.5 319.0 L459.8 320.6 L459.1 320.8 L459.1 320.3 L458.4 320.5 L457.7 321.4 L457.7 322.4 L457.1 321.5 L456.4 321.1 L455.7 323.7 L455.0 325.2 L454.4 324.8 L454.4 323.8 L453.7 324.4 L453.0 324.6 L453.0 325.9 L452.4 323.3 L451.8 321.9 L451.2 320.0 L450.6 323.4 L449.9 323.3 L449.9 321.4 L449.2 323.6 L448.6 326.0 L447.9 325.9 L447.9 326.1 L447.3 327.2 L446.6 327.4 L446.0 325.5 L446.0 324.9 L445.3 324.7 L444.6 326.1 L444.0 325.7 L444.0 328.1 L443.3 327.1 L442.6 326.0 L442.0 323.9 L441.4 322.0 L440.7 322.7 L440.7 323.7 L440.1 326.8 L439.4 327.5 L438.8 328.9 L438.1 331.4 L438.1 328.4 L437.4 327.8 L436.7 328.0 L436.0 328.8 L436.0 331.4 L435.3 329.4 L434.6 327.9 L433.9 329.3 L433.9 326.5 L433.2 326.9 L432.5 326.8 L432.5 327.3 L431.8 328.0 L431.1 326.8 L430.4 327.6 L429.7 331.0 L429.7 330.3 L429.0 332.2 L428.3 329.9 L427.6 329.1 L426.9 328.2 L426.9 328.3 L426.2 327.5 L425.5 328.8 L425.5 329.5 L424.8 329.4 L424.1 327.0 L423.4 325.4 L423.4 324.9 L422.7 323.9 L422.0 321.5 L421.3 322.4 L420.6 322.3 L420.6 324.2 L419.8 322.4 L419.1 323.7 L419.1 322.3 L418.4 324.5 L417.6 324.3 L416.9 324.9 L416.9 323.9 L416.2 324.2 L415.5 324.2 L414.9 326.4 L414.2 328.7 L413.5 328.0 L413.5 328.0 L412.9 327.5 L412.2 329.0 L411.6 330.0 L410.9 331.2 L410.9 334.7 L410.2 334.9 L409.6 333.3 L408.9 330.0 L408.3 329.3 L408.3 330.4 L407.6 332.6 L407.0 332.6 L406.3 332.7 L406.3 332.4 L405.6 332.8 L405.0 331.5 L404.3 331.7 L404.3 327.8 L403.7 330.7 L403.0 331.8 L402.3 330.2 L401.6 330.5 L401.6 330.9 L401.0 331.0 L400.3 330.4 L400.3 330.0 L399.6 331.4 L398.9 331.6 L398.3 328.6 L397.6 327.7 L396.9 328.9 L396.9 328.7 L396.2 329.6 L395.4 331.2 L394.7 332.9 L394.0 331.9 L393.2 333.7 L393.2 333.9 L392.5 337.2 L391.8 335.9 L391.0 334.8 L391.0 339.0 L390.3 338.6 L389.5 337.1 L388.8 338.9 L388.8 335.7 L388.0 336.9 L387.3 334.7 L386.6 336.1 L385.9 338.6 L385.9 337.5 L385.2 338.5 L384.5 340.6 L384.5 341.7 L383.8 342.8 L383.0 339.5 L382.3 339.6 L381.5 341.2 L381.5 339.8 L380.8 338.8 L380.0 339.1 L379.2 333.3 L378.4 338.0 L378.4 340.2 L377.7 342.3 L377.0 342.8 L376.3 340.7 L375.7 340.7 L375.0 341.0 L375.0 341.1 L374.3 340.8 L373.6 342.8 L372.8 333.9 L372.8 334.8 L371.9 328.1 L371.4 327.0 L370.8 324.2 L369.8 329.3 L369.8 326.6 L369.1 333.5 L368.5 339.6 L368.5 341.9 L367.8 340.6 L367.1 342.7 L366.4 345.3 L366.4 345.9 L365.7 345.3 L365.0 345.9 L365.0 347.2 L364.3 348.5 L363.6 348.6 L363.6 347.1 L362.9 349.5 L362.2 351.7 L361.5 349.9 L360.8 349.1 L360.1 349.6 L360.1 349.4 L359.3 348.3 L358.6 348.3 L357.9 348.2 L357.9 348.5 L357.1 345.7 L356.4 345.8 L356.4 350.0 L355.7 353.2 L354.9 352.9 L354.9 350.8 L354.2 350.7 L353.4 350.6 L352.7 349.2 L352.7 347.0 L351.9 349.1 L351.2 350.8 L350.5 348.4 L349.9 347.8 L349.2 348.9 L349.2 348.8 L348.5 348.5 L347.9 349.2 L347.2 350.4 L347.2 350.5 L346.6 348.3 L345.9 345.9 L345.9 344.5 L345.2 346.5 L344.4 347.6 L343.7 347.1 L343.7 347.9 L343.0 349.1 L342.2 347.7 L341.5 347.9 L340.9 352.7 L340.9 354.5 L340.2 356.3 L339.5 354.7 L338.9 355.1 L338.9 352.1 L338.0 345.1 L337.2 337.9 L336.5 343.1 L335.8 350.7 L335.0 350.1 L335.0 346.0 L334.2 347.4 L333.5 347.1 L333.5 347.3 L332.7 346.5 L331.9 323.4 L331.2 341.7 L331.2 342.9 L330.2 348.9 L329.5 352.2 L328.8 350.5 L328.0 351.0 L328.0 351.0 L327.3 351.5 L326.6 351.4 L325.9 354.4 L325.2 355.1 L324.5 351.3 L324.5 355.9 L323.8 355.1 L323.0 355.0 L322.3 353.4 L322.3 349.4 L321.6 349.9 L320.9 349.1 L320.2 346.3 L320.2 344.4 L319.6 335.3 L319.0 325.3 L318.4 325.4 L318.4 324.9 L317.9 322.0 L317.2 324.8 L316.6 325.5 L315.6 341.0 L315.6 340.9 L315.0 347.5 L314.4 353.9 L313.7 353.7 L313.7 354.0 L313.0 352.5 L312.3 352.2 L311.6 351.1 L311.6 351.6 L310.9 352.0 L310.2 352.5 L309.5 349.9 L308.8 348.5 L308.8 348.8 L308.1 349.6 L307.4 348.6 L306.7 344.8 L306.7 344.5 L306.0 342.1 L305.4 339.2 L305.4 339.6 L304.8 337.1 L304.2 336.4 L304.2 336.4 L303.4 343.0 L302.5 348.5 L302.5 346.9 L301.8 347.1 L301.2 346.9 L300.5 346.9 L300.5 347.2 L299.8 331.6 L299.2 346.2 L298.4 348.9 L298.4 349.2 L297.7 351.4 L297.0 353.9 L296.2 355.4 L296.2 356.8 L295.5 359.4 L294.8 354.9 L294.2 351.2 L294.2 349.8 L293.5 348.1 L292.5 333.0 L291.9 321.9 L291.2 311.0 L291.2 310.8 L290.2 303.2 L289.5 302.7 L288.9 303.3 L288.9 303.6 L288.2 303.1 L287.3 308.3 L286.3 344.1 L285.6 346.5 L284.9 347.5 L284.9 346.9 L284.2 347.7 L283.5 345.9 L282.8 345.8 L282.1 347.7 L281.4 347.7 L281.4 347.8 L280.7 347.8 L279.9 348.1 L279.2 346.5 L278.5 346.5 L278.5 346.8 L277.8 348.5 L277.0 329.8 L277.0 329.7 L276.3 345.0 L275.8 354.0 L274.9 351.1 L274.9 351.5 L274.2 350.5 L273.5 351.4 L273.5 352.4 L272.8 350.1 L272.0 348.4 L271.3 348.9 L271.3 348.8 L270.6 347.8 L269.9 347.5 L269.2 347.7 L268.6 345.9 L267.9 344.8 L267.9 344.4 L267.2 346.2 L266.6 347.1 L266.6 347.7 L265.9 346.8 L265.2 346.9 L264.5 335.3 L264.5 335.7 L263.8 326.6 L262.9 323.1 L262.0 323.6 L261.2 344.6 L260.5 347.6 L260.5 349.7 L259.8 350.5 L259.0 351.9 L258.3 353.8 L257.6 351.6 L257.0 350.1 L257.0 347.8 L256.3 348.5 L255.7 347.5 L255.0 346.0 L255.0 343.9 L254.2 344.2 L253.5 343.7 L253.5 343.7 L252.7 343.7 L252.1 319.3 L251.5 319.5 L251.5 319.5 L250.9 319.3 L250.3 319.3 L249.4 328.8 L249.4 329.9 L248.6 339.2 L247.9 337.8 L247.2 333.5 L247.2 330.8 L246.2 329.8 L245.3 351.0 L244.6 328.8 L244.6 329.7 L243.9 336.5 L243.3 342.0 L243.3 341.4 L242.7 346.5 L242.2 340.5 L242.2 341.9 L241.6 343.4 L241.0 346.2 L240.4 347.5 L240.4 347.9 L239.8 344.6 L239.2 342.2 L238.6 323.3 L237.8 320.7 L237.8 319.5 L236.9 321.5 L236.2 326.7 L235.7 320.3 L235.7 323.0 L234.7 320.2 L233.9 322.2 L233.9 320.8 L233.2 323.3 L232.4 328.3 L231.6 333.4 L231.6 336.0 L230.8 338.7 L229.9 344.2 L229.2 346.7 L229.2 344.0 L228.5 344.8 L227.8 345.7 L227.1 345.5 L226.4 347.5 L226.4 347.2 L225.6 350.5 L224.9 351.3 L224.9 349.5 L224.1 351.9 L223.4 352.4 L222.7 352.2 L222.0 353.7 L221.3 354.4 L221.3 355.7 L220.6 354.0 L219.8 354.8 L219.1 356.9 L219.1 356.9 L218.4 356.8 L217.7 356.9 L217.0 356.7 L216.3 354.9 L215.7 355.0 L215.7 353.7 L215.0 355.7 L214.4 355.4 L213.7 354.2 L213.1 354.8 L213.1 355.1 L212.4 355.3 L211.7 355.1 L210.9 356.7 L210.2 355.9 L210.2 355.1 L209.6 349.4 L208.9 345.7 L208.4 350.1 L208.4 348.1 L207.8 350.8 L207.1 352.5 L206.4 354.5 L206.4 355.0 L205.6 354.7 L204.9 355.8 L204.2 359.4 L204.2 360.0 L203.5 360.3 L202.9 359.4 L202.2 359.6 L201.6 359.2 L200.9 358.6 L200.9 360.9 L200.3 362.7 L199.6 363.9 L198.9 357.4 L198.4 359.3 L198.4 359.7 L197.7 360.1 L196.9 360.7 L196.9 361.5 L196.2 362.5 L195.5 363.7 L194.7 361.8 L194.7 362.3 L194.0 361.8 L193.1 358.3 L192.5 360.9 L191.8 363.4 L191.2 364.4 L191.2 367.3 L190.5 366.9 L189.8 367.7 L189.1 370.7 L189.1 367.7 L188.5 368.3 L187.8 367.1 L187.1 367.6 L187.1 370.6 L186.4 371.0 L185.7 371.1 L185.0 373.0 L184.4 360.3 L183.8 352.0 L183.8 351.0 L182.8 370.3 L182.0 374.3 L181.2 374.6 L181.2 373.5 L180.5 374.6 L179.7 373.4 L179.7 372.9 L179.1 374.2 L178.5 377.1 L177.9 374.2 L177.9 374.2 L177.3 370.1 L176.5 376.0 L176.5 378.7 L175.8 378.8 L175.1 378.9 L174.3 381.3 L173.6 383.0 L173.0 380.0 L173.0 379.0 L172.4 376.8 L171.8 376.4 L170.9 378.6 L170.9 379.2 L170.1 381.7 L169.4 382.5 L169.4 382.0 L168.7 380.6 L168.0 381.2 L167.3 384.0 L167.3 384.5 L166.6 385.0 L165.9 385.0 L165.1 384.9 L165.1 383.9 L164.4 383.8 L163.7 384.3 L163.7 384.1 L162.8 370.0 L162.0 354.6 L161.0 353.4 L161.0 353.1 L160.1 378.8 L159.2 382.2 L158.4 384.8 L158.4 384.9 L157.6 384.1 L156.9 384.5 L156.1 385.0 L156.1 385.2 L155.5 383.2 L154.9 381.4 L154.3 379.7 L153.6 379.6 L153.0 380.0 L153.0 379.6 L152.3 381.0 L151.4 371.7 L150.5 365.3 L150.5 365.3 L149.7 365.1 L148.8 364.7 L147.9 357.1 L147.3 356.9 L147.3 357.1 L146.7 356.1 L146.1 356.7 L145.6 361.9 L145.0 367.2 L144.4 372.0 L144.4 372.1 L143.8 376.6 L143.2 381.6 L142.6 385.9 L142.6 386.7 L141.8 387.0 L141.1 388.0 L140.3 387.8 L140.3 387.8 L139.7 388.8 L139.1 390.0 L138.5 390.9 L137.6 381.2 L136.9 378.9 L136.9 378.9 L136.2 374.6 L135.4 363.7 L134.5 354.4 L133.9 354.1 L133.9 354.1 L133.3 354.1 L132.7 353.7 L132.7 353.9 L132.0 357.3 L131.3 361.5 L130.7 362.0 L130.1 363.0 L130.1 363.1 L129.2 369.5 L128.6 372.5 L128.0 374.7 L127.4 376.8 L127.4 377.2 L126.6 378.6 L125.9 380.1 L125.1 380.4 L125.1 380.6 L124.3 381.2 L123.6 382.1 L123.6 381.8 L122.8 382.6 L122.2 385.1 L122.2 385.2 L121.6 387.1 L121.0 388.2 L120.2 386.1 L120.2 386.1 L119.3 384.6 L118.7 380.5 L118.1 376.9 L117.2 374.8 L116.4 371.7 L116.4 371.2 L115.8 369.7 L115.2 367.9 L114.5 367.5 L114.5 367.5 L113.8 366.4 L113.0 364.6 L113.0 365.7 L112.3 363.4 L111.7 363.4 L111.7 363.8 L111.1 364.1 L110.5 363.5 L109.7 358.3 L108.8 355.5 L108.8 354.3 L107.9 346.1 L107.2 345.6 L106.5 345.0 L105.8 343.8 L105.3 337.9 L105.3 338.4 L104.7 335.3 L104.1 331.4 L103.6 327.5Z" fill="#02a3cf" stroke="#02a3cf" stroke-width="0.6" stroke-linejoin="round"/>
<path d="M103.6 327.0 L104.1 330.5 L104.7 334.2 L105.3 337.5 L105.8 343.4 L106.5 344.7 L107.2 345.1 L107.9 345.7 L108.8 353.9 L109.7 356.9 L110.5 361.2 L111.1 361.9 L111.7 361.1 L112.3 361.3 L113.0 363.5 L113.8 365.5 L114.5 366.3 L115.2 367.3 L115.8 368.9 L116.4 370.5 L117.2 373.5 L118.1 376.1 L118.7 379.5 L119.3 383.5 L120.2 384.7 L121.0 387.1 L121.6 385.8 L122.2 384.4 L122.8 381.6 L123.6 381.1 L124.3 379.6 L125.1 379.3 L125.9 378.6 L126.6 377.8 L127.4 376.1 L128.0 374.1 L128.6 371.6 L129.2 369.1 L130.1 362.7 L130.7 361.8 L131.3 360.9 L132.0 356.8 L132.7 353.3 L133.3 353.7 L133.9 353.5 L134.5 353.9 L135.4 363.2 L136.2 373.7 L136.9 377.7 L137.6 380.7 L138.5 389.6 L139.1 389.1 L139.7 387.3 L140.3 386.5 L141.1 386.5 L141.8 385.9 L142.6 385.4 L143.2 381.2 L143.8 376.1 L144.4 371.7 L145.0 366.7 L145.6 361.6 L146.1 356.2 L146.7 355.8 L147.3 356.5 L147.9 356.8 L148.8 364.4 L149.7 364.8 L150.5 365.0 L151.4 371.4 L152.3 380.1 L153.0 378.9 L153.6 377.9 L154.3 378.4 L154.9 379.9 L155.5 382.0 L156.1 383.9 L156.9 383.7 L157.6 382.7 L158.4 383.7 L159.2 380.8 L160.1 378.4 L161.0 352.7 L162.0 353.9 L162.8 369.1 L163.7 383.4 L164.4 382.1 L165.1 383.2 L165.9 381.1 L166.6 381.8 L167.3 380.5 L168.0 379.2 L168.7 377.2 L169.4 379.6 L170.1 378.4 L170.9 376.5 L171.8 373.6 L172.4 374.5 L173.0 375.8 L173.6 379.3 L174.3 377.0 L175.1 376.0 L175.8 374.1 L176.5 374.9 L177.3 367.9 L177.9 372.4 L178.5 374.9 L179.1 372.7 L179.7 370.7 L180.5 373.0 L181.2 369.9 L182.0 371.0 L182.8 369.0 L183.8 349.7 L184.4 357.8 L185.0 366.5 L185.7 363.5 L186.4 365.2 L187.1 363.1 L187.8 363.6 L188.5 364.2 L189.1 365.0 L189.8 360.2 L190.5 361.1 L191.2 359.8 L191.8 360.7 L192.5 359.6 L193.1 355.7 L194.0 358.1 L194.7 359.4 L195.5 359.9 L196.2 360.0 L196.9 357.5 L197.7 358.0 L198.4 357.2 L198.9 353.2 L199.6 358.0 L200.3 357.6 L200.9 354.2 L201.6 356.3 L202.2 355.5 L202.9 356.5 L203.5 355.7 L204.2 356.4 L204.9 352.0 L205.6 352.3 L206.4 351.3 L207.1 350.9 L207.8 349.0 L208.4 347.1 L208.9 343.8 L209.6 347.9 L210.2 353.2 L210.9 354.9 L211.7 351.2 L212.4 352.6 L213.1 351.7 L213.7 352.5 L214.4 352.3 L215.0 353.6 L215.7 350.7 L216.3 351.6 L217.0 353.0 L217.7 354.1 L218.4 352.6 L219.1 353.7 L219.8 350.1 L220.6 350.8 L221.3 351.5 L222.0 352.1 L222.7 349.0 L223.4 350.3 L224.1 350.2 L224.9 348.5 L225.6 346.3 L226.4 343.7 L227.1 340.9 L227.8 342.3 L228.5 340.1 L229.2 341.3 L229.9 339.7 L230.8 335.8 L231.6 332.7 L232.4 327.7 L233.2 322.0 L233.9 319.7 L234.7 316.3 L235.7 319.0 L236.2 324.0 L236.9 320.2 L237.8 318.2 L238.6 322.0 L239.2 339.7 L239.8 342.2 L240.4 345.4 L241.0 344.4 L241.6 340.8 L242.2 339.7 L242.7 345.7 L243.3 340.7 L243.9 335.0 L244.6 328.2 L245.3 350.4 L246.2 329.2 L247.2 330.2 L247.9 334.8 L248.6 337.5 L249.4 328.3 L250.3 318.7 L250.9 318.8 L251.5 318.8 L252.1 318.7 L252.7 342.1 L253.5 342.5 L254.2 341.9 L255.0 342.3 L255.7 343.3 L256.3 345.1 L257.0 343.1 L257.6 345.8 L258.3 347.2 L259.0 346.2 L259.8 343.0 L260.5 343.5 L261.2 343.0 L262.0 322.0 L262.9 319.9 L263.8 325.0 L264.5 333.8 L265.2 343.3 L265.9 342.6 L266.6 344.8 L267.2 343.0 L267.9 342.4 L268.6 342.0 L269.2 345.3 L269.9 343.2 L270.6 344.5 L271.3 345.0 L272.0 345.3 L272.8 345.7 L273.5 349.4 L274.2 347.5 L274.9 349.0 L275.8 353.0 L276.3 344.0 L277.0 328.7 L277.8 345.5 L278.5 343.1 L279.2 344.1 L279.9 344.7 L280.7 345.6 L281.4 344.7 L282.1 346.1 L282.8 343.2 L283.5 343.7 L284.2 344.3 L284.9 344.7 L285.6 342.8 L286.3 343.0 L287.3 306.0 L288.2 302.0 L288.9 302.4 L289.5 301.9 L290.2 302.4 L291.2 310.0 L291.9 320.7 L292.5 332.0 L293.5 346.0 L294.2 348.0 L294.8 350.6 L295.5 354.3 L296.2 350.8 L297.0 350.7 L297.7 347.8 L298.4 346.5 L299.2 345.0 L299.8 330.4 L300.5 346.0 L301.2 346.2 L301.8 345.8 L302.5 346.0 L303.4 340.2 L304.2 333.9 L304.8 334.0 L305.4 337.5 L306.0 340.0 L306.7 342.8 L307.4 345.2 L308.1 346.7 L308.8 344.6 L309.5 347.7 L310.2 348.6 L310.9 348.8 L311.6 347.7 L312.3 349.9 L313.0 349.1 L313.7 351.7 L314.4 353.0 L315.0 347.0 L315.6 340.0 L316.6 322.6 L317.2 321.5 L317.9 319.9 L318.4 322.4 L319.0 324.0 L319.6 333.8 L320.2 343.1 L320.9 345.1 L321.6 347.4 L322.3 344.4 L323.0 348.0 L323.8 346.2 L324.5 348.4 L325.2 350.5 L325.9 351.5 L326.6 347.3 L327.3 348.8 L328.0 345.1 L328.8 347.6 L329.5 347.4 L330.2 346.0 L331.2 340.0 L331.9 321.7 L332.7 341.5 L333.5 343.8 L334.2 341.8 L335.0 341.1 L335.8 340.8 L336.5 340.0 L337.2 334.8 L338.0 342.0 L338.9 348.9 L339.5 349.9 L340.2 349.1 L340.9 348.8 L341.5 343.5 L342.2 344.4 L343.0 343.6 L343.7 344.5 L344.4 343.2 L345.2 344.5 L345.9 341.1 L346.6 344.4 L347.2 345.3 L347.9 345.6 L348.5 342.8 L349.2 344.7 L349.9 342.6 L350.5 344.2 L351.2 346.1 L351.9 344.9 L352.7 341.6 L353.4 344.4 L354.2 342.6 L354.9 345.1 L355.7 343.5 L356.4 341.2 L357.1 340.6 L357.9 345.2 L358.6 343.5 L359.3 345.1 L360.1 344.5 L360.8 344.6 L361.5 345.0 L362.2 348.0 L362.9 343.9 L363.6 343.8 L364.3 342.0 L365.0 341.3 L365.7 339.8 L366.4 342.0 L367.1 337.7 L367.8 338.0 L368.5 338.0 L369.1 332.4 L369.8 325.0 L370.8 319.9 L371.4 322.1 L371.9 326.0 L372.8 332.6 L373.6 339.4 L374.3 336.7 L375.0 338.4 L375.7 337.0 L376.3 337.9 L377.0 338.7 L377.7 339.8 L378.4 337.0 L379.2 331.2 L380.0 336.2 L380.8 336.4 L381.5 336.0 L382.3 335.9 L383.0 334.3 L383.8 338.4 L384.5 336.3 L385.2 335.8 L385.9 333.7 L386.6 332.7 L387.3 330.5 L388.0 333.3 L388.8 330.6 L389.5 330.9 L390.3 330.6 L391.0 332.4 L391.8 332.1 L392.5 334.0 L393.2 330.1 L394.0 329.8 L394.7 328.8 L395.4 329.2 L396.2 326.2 L396.9 325.6 L397.6 323.9 L398.3 326.6 L398.9 327.9 L399.6 329.1 L400.3 325.5 L401.0 327.7 L401.6 326.7 L402.3 327.7 L403.0 328.5 L403.7 328.4 L404.3 324.1 L405.0 325.1 L405.6 325.3 L406.3 326.3 L407.0 324.3 L407.6 326.0 L408.3 323.1 L408.9 324.8 L409.6 326.4 L410.2 329.8 L410.9 328.5 L411.6 328.3 L412.2 325.7 L412.9 325.6 L413.5 324.3 L414.2 326.5 L414.9 323.1 L415.5 322.5 L416.2 321.6 L416.9 322.2 L417.6 320.1 L418.4 321.6 L419.1 317.9 L419.8 318.3 L420.6 318.7 L421.3 319.7 L422.0 318.5 L422.7 321.9 L423.4 321.4 L424.1 323.5 L424.8 325.5 L425.5 326.7 L426.2 323.6 L426.9 326.3 L427.6 325.7 L428.3 327.5 L429.0 329.4 L429.7 327.9 L430.4 323.2 L431.1 323.4 L431.8 323.7 L432.5 324.5 L433.2 323.3 L433.9 323.9 L434.6 321.8 L435.3 324.3 L436.0 325.0 L436.7 325.2 L437.4 324.2 L438.1 325.2 L438.8 321.9 L439.4 321.8 L440.1 319.8 L440.7 317.5 L441.4 315.9 L442.0 319.1 L442.6 320.2 L443.3 322.0 L444.0 321.9 L444.6 323.8 L445.3 321.3 L446.0 322.9 L446.6 323.7 L447.3 324.6 L447.9 322.0 L448.6 322.8 L449.2 319.5 L449.9 318.7 L450.6 317.2 L451.2 316.4 L451.8 317.8 L452.4 320.1 L453.0 322.3 L453.7 323.0 L454.4 321.0 L455.0 322.4 L455.7 319.9 L456.4 318.6 L457.1 317.6 L457.7 319.7 L458.4 317.9 L459.1 318.0 L459.8 317.3 L460.5 316.6 L461.2 316.0 L461.8 318.5 L462.5 315.9 L463.2 314.7 L463.9 314.7 L464.8 325.4 L465.5 324.4 L466.1 325.9 L466.8 322.0 L467.5 321.2 L468.1 320.5 L468.8 319.6 L469.5 317.3 L470.3 316.3 L471.0 312.2 L471.6 312.9 L472.3 314.5 L472.9 318.3 L473.6 317.8 L474.2 320.1 L474.9 321.5 L475.6 321.4 L476.2 320.9 L476.9 323.2 L477.5 321.2 L478.2 319.9 L478.9 319.6 L479.5 321.0 L480.2 319.9 L480.9 322.1 L481.7 320.0 L482.4 320.0 L483.2 320.7 L483.9 323.4 L484.7 321.1 L485.4 321.6 L486.1 320.3 L486.9 321.8 L487.6 322.6 L488.3 324.8 L489.1 322.5 L489.8 324.7 L490.4 323.5 L491.1 323.5 L491.8 322.5 L492.4 322.1 L493.1 319.0 L493.9 320.8 L494.6 320.5 L495.3 321.6 L496.1 320.4 L496.8 321.3 L497.4 313.3 L498.0 306.6 L498.6 300.8 L499.2 301.1 L499.9 298.1 L500.6 298.9 L501.2 297.8 L501.9 298.6 L502.7 299.9 L503.4 302.0 L504.1 299.8 L504.9 302.6 L505.6 303.0 L506.3 306.3 L507.0 308.7 L507.7 311.7 L508.4 312.1 L509.1 316.1 L510.0 319.1 L510.8 321.6 L511.5 321.3 L512.2 322.2 L512.9 320.8 L513.6 323.7 L514.2 322.5 L514.9 321.5 L515.6 320.5 L516.3 322.2 L517.0 320.7 L517.7 322.0 L518.4 320.8 L519.1 320.5 L519.8 320.0 L520.5 323.6 L521.2 322.3 L521.9 323.3 L522.6 322.1 L523.3 321.7 L524.0 321.5 L524.8 323.0 L525.5 319.1 L526.3 318.8 L527.0 317.2 L527.8 317.0 L528.6 319.6 L529.3 322.3 L530.1 321.3 L530.8 322.0 L531.5 321.3 L532.2 321.2 L532.9 320.3 L533.6 320.5 L534.3 317.8 L535.0 319.4 L535.7 320.1 L536.4 320.7 L537.0 318.7 L537.7 320.2 L538.4 317.8 L539.1 319.8 L539.8 319.4 L540.5 319.5 L541.1 317.0 L541.8 318.8 L542.5 319.1 L543.2 319.8 L543.9 319.6 L544.5 320.2 L545.2 317.0 L545.9 319.1 L546.6 318.4 L547.2 318.7 L547.9 317.4 L548.6 318.2 L549.3 316.2 L549.9 318.4 L550.6 319.1 L551.3 319.0 L552.0 316.7 L552.8 318.6 L553.5 317.3 L554.2 318.3 L554.9 318.3 L555.6 317.9 L556.4 315.6 L557.1 318.5 L557.8 318.1 L558.5 319.2 L559.3 318.6 L560.0 317.6 L560.7 317.0 L561.4 319.6 L562.1 317.6 L562.8 318.2 L563.5 316.8 L564.2 318.2 L564.9 317.6 L565.7 320.6 L566.4 319.0 L567.1 318.2 L567.8 318.1 L568.5 319.6 L569.2 317.8 L569.9 320.2 L570.6 318.3 L571.3 317.3 L572.0 317.2 L572.7 318.7 L573.4 316.6 L574.1 317.3 L574.8 315.6 L575.5 315.5 L576.2 314.5 L576.9 315.7 L577.6 312.7 L578.3 312.7 L579.1 312.0 L579.8 312.8 L580.6 312.7 L581.3 313.2 L582.1 310.1 L582.8 311.2 L583.5 311.2 L584.2 311.5 L584.8 310.1 L585.5 311.0 L586.2 308.2 L586.9 310.6 L587.5 311.0 L588.2 311.3 L588.9 309.4 L589.6 311.0 L590.2 309.9 L590.9 310.8 L591.6 311.3 L592.3 311.0 L593.0 307.5 L593.6 309.6 L594.3 309.7 L595.0 310.7 L595.7 310.0 L596.3 311.7 L597.0 308.9 L597.7 310.9 L598.4 311.0 L599.0 311.4 L599.7 309.1 L600.4 309.6 L601.0 306.1 L601.7 305.9 L602.4 304.4 L603.0 303.6 L603.7 301.6 L604.4 303.3 L605.0 303.5 L605.7 305.2 L606.4 304.4 L607.1 306.2 L607.7 303.0 L608.4 304.4 L609.1 305.9 L609.8 307.2 L610.5 305.9 L611.2 308.3 L611.9 306.2 L612.6 308.5 L613.3 309.2 L614.0 310.3 L614.7 307.6 L615.4 309.1 L616.1 309.3 L616.8 309.2 L617.5 309.1 L618.2 309.4 L618.9 305.5 L619.6 307.2 L620.3 306.1 L621.0 306.2 L621.7 304.1 L622.4 304.0 L623.1 301.3 L623.8 302.5 L624.5 302.4 L625.2 301.8 L625.9 299.6 L626.5 301.0 L627.2 298.8 L627.9 300.4 L628.6 300.1 L629.3 298.3 L630.0 295.8 L630.7 298.6 L631.5 297.3 L632.2 298.7 L632.9 298.5 L633.6 298.9 L634.3 297.1 L635.0 300.1 L635.8 299.4 L636.5 299.3 L637.2 298.7 L637.9 298.1 L638.6 296.8 L639.3 300.6 L640.0 299.1 L640.7 299.1 L641.4 298.3 L642.1 300.6 L642.8 299.3 L643.5 301.7 L644.2 299.1 L644.9 299.0 L645.6 298.2 L646.3 300.4 L647.0 299.1 L647.7 299.9 L648.4 300.0 L649.0 301.5 L649.6 301.9 L650.3 304.8 L651.0 302.1 L651.8 301.1 L652.5 299.2 L653.2 299.3 L654.0 297.4 L654.7 298.2 L655.4 296.2 L656.1 296.4 L656.8 296.8 L657.5 298.3 L658.2 296.9 L658.9 298.3 L659.6 295.1 L660.3 295.1 L661.0 295.9 L661.7 296.7 L662.4 294.7 L663.1 296.2 L663.8 294.2 L664.5 295.6 L665.2 296.8 L665.9 297.0 L666.6 294.1 L667.3 295.4 L668.0 293.9 L668.7 294.9 L669.4 294.9 L670.1 295.4 L670.8 292.8 L671.5 295.2 L672.2 296.1 L672.9 296.6 L673.6 294.9 L674.3 296.3 L675.0 294.2 L675.7 296.5 L676.4 296.9 L677.1 297.0 L677.8 295.7 L678.5 297.9 L679.2 297.9 L679.9 298.5 L680.5 297.5 L681.2 296.1 L681.8 292.1 L682.5 293.7 L683.1 291.9 L683.8 291.0 L684.5 290.7 L685.2 291.7 L685.9 289.2 L686.6 291.9 L687.3 292.8 L688.0 292.8 L688.7 291.2 L689.4 292.8 L690.1 290.5 L690.8 291.7 L691.5 291.9 L692.2 291.1 L692.8 288.4 L693.5 290.3 L694.2 289.6 L694.9 290.2 L695.5 289.2 L696.2 289.1 L696.9 286.6 L697.6 288.6 L698.3 288.6 L698.9 289.1 L699.6 287.7 L700.3 289.0 L701.0 287.3 L701.6 290.2 L702.3 291.2 L703.0 290.9 L703.7 289.4 L704.3 291.5 L705.0 290.9 L705.6 291.9 L706.3 292.1 L707.0 293.3 L707.6 290.5 L708.3 292.6 L709.0 293.1 L709.7 294.0 L710.4 292.6 L711.1 293.3 L711.8 290.2 L712.5 291.8 L713.2 290.9 L713.9 290.7 L714.6 287.9 L715.3 288.9 L716.0 288.6 L716.7 291.2 L717.3 292.4 L718.0 292.9 L718.7 290.9 L719.4 293.5 L720.0 293.0 L720.7 294.1 L721.4 294.6 L722.1 293.6 L722.9 290.3 L723.6 292.5 L724.3 291.8 L725.1 291.1 L725.8 289.9 L726.5 290.3 L727.2 288.5 L727.9 291.5 L728.6 290.3 L729.3 289.8 L730.0 288.8 L730.7 290.9 L731.4 289.6 L732.1 292.6 L732.8 292.2 L733.5 291.6 L734.2 290.6 L734.9 293.4 L735.6 292.0 L736.3 292.6 L737.0 291.9 L737.7 291.9 L738.4 291.6 L739.1 295.6 L739.8 294.3 L740.5 293.5 L741.1 291.4 L741.8 292.6 L742.5 290.3 L743.1 291.4 L743.8 289.2 L744.4 287.5 L745.1 286.4 L745.8 288.9 L746.5 287.6 L747.2 289.4 L747.9 288.5 L748.6 288.9 L749.3 287.9 L750.0 291.2 L750.7 288.9 L751.4 289.2 L752.1 288.6 L752.8 288.9 L753.5 288.2 L754.1 291.7 L754.8 290.0 L755.5 290.4 L756.2 289.9 L756.8 292.2 L757.5 290.5 L758.2 292.5 L758.9 290.6 L759.5 290.3 L760.2 290.1 L760.9 292.5 L761.6 291.4 L762.4 292.1 L763.1 290.8 L763.8 291.5 L764.5 290.5 L765.2 292.8 L766.0 289.4 L766.7 289.5 L767.4 288.6 L768.1 289.3 L768.9 289.1 L769.6 290.2 L770.3 288.0 L770.9 288.6 L771.6 289.2 L772.2 290.2 L772.9 287.6 L773.6 289.1 L774.2 286.7 L774.9 286.0 L775.6 287.8 L776.2 290.8 L776.9 289.1 L777.5 290.8 L778.2 291.1 L778.9 292.9 L779.5 292.5 L780.2 295.2 L780.9 293.4 L781.6 294.0 L782.3 294.3 L783.0 296.9 L783.7 296.8 L784.4 297.4 L785.1 294.3 L785.8 294.1 L786.5 294.2 L787.2 295.1 L787.9 291.5 L788.6 291.8 L789.3 289.4 L790.0 288.5 L790.7 288.9 L791.5 290.9 L792.2 288.3 L793.0 291.1 L793.7 291.4 L794.5 292.2 L795.2 292.0 L795.8 292.2 L796.5 288.5 L797.1 289.5 L797.8 289.5 L798.5 289.7 L799.1 288.1 L799.8 288.9 L800.5 287.6 L801.2 289.6 L802.0 289.9 L802.7 289.7 L803.4 287.2 L804.1 288.9 L804.9 287.2 L805.6 288.5 L806.3 288.8 L807.0 288.2 L807.8 286.6 L808.5 289.2 L809.2 288.1 L809.9 289.1 L810.6 287.6 L811.3 286.9 L812.0 285.3 L812.7 288.1 L813.4 286.3 L814.2 286.2 L814.9 285.3 L815.6 285.9 L816.3 284.6 L817.0 287.6 L817.7 285.2 L818.4 284.1 L819.1 283.9 L819.8 285.2 L820.5 283.3 L821.2 285.5 L821.9 283.5 L822.6 283.6 L823.3 284.1 L824.0 287.0 L824.7 284.5 L825.4 285.9 L826.1 284.8 L826.7 280.3 L827.4 275.9 L828.0 272.0 L828.8 267.7 L829.6 265.5 L830.3 269.6 L831.0 274.0 L831.6 278.5 L832.2 284.8 L832.9 283.5 L833.7 285.1 L834.4 286.5 L835.1 288.3 L835.9 288.1 L836.6 290.0 L837.3 288.1 L838.0 289.7 L838.7 291.0 L839.4 291.7 L840.1 289.2 L840.8 290.4 L841.5 289.0 L842.2 289.9 L842.9 289.4 L843.6 290.0 L844.3 287.5 L845.0 289.7 L845.7 289.6 L846.4 290.8 L847.1 290.4 L847.8 290.6 L848.5 287.6 L849.1 289.5 L849.8 289.3 L850.5 289.9 L851.2 287.6 L851.8 289.6 L852.5 287.5 L853.2 289.7 L853.9 290.5 L854.5 290.9 L855.2 288.1 L855.9 289.1 L856.6 288.8 L857.4 289.2 L858.1 288.6 L858.8 288.7 L859.5 285.9 L860.2 288.8 L861.0 288.6 L861.7 289.2 L862.4 288.2 L863.1 288.3 L863.9 286.1 L864.6 288.3 L865.3 287.6 L866.0 286.7 L866.6 285.8 L867.3 287.5 L868.0 286.0 L868.7 288.4 L869.3 287.5 L870.0 286.6 L870.7 284.8 L871.4 287.3 L872.0 285.4 L872.7 286.2 L873.4 285.7 L874.1 284.9 L874.8 283.6 L875.4 286.5 L876.1 286.1 L876.8 285.5 L877.5 284.3 L878.1 285.9 L878.8 283.7 L879.5 285.9 L880.2 284.8 L880.8 283.7 L881.5 281.9 L882.2 283.8 L882.9 283.2 L883.7 285.5 L884.4 284.6 L885.1 283.7 L885.8 282.4 L886.5 285.0 L887.3 283.4 L888.0 283.4 L888.7 282.4 L889.5 282.4 L890.2 282.5 L890.9 284.7 L891.6 282.4 L892.3 283.0 L893.0 282.1 L893.7 282.8 L894.4 281.4 L895.1 283.4 L895.8 279.4 L896.5 279.9 L897.2 279.9 L897.9 281.0 L898.6 280.7 L899.2 282.9 L899.9 281.8 L900.5 282.7 L901.2 283.2 L901.9 285.7 L902.5 283.5 L903.2 283.7 L903.9 283.1 L904.6 283.5 L905.3 282.9 L906.0 285.2 L906.7 282.4 L907.4 282.5 L908.1 282.2" fill="none" stroke="#02a3cf" stroke-width="2.8" stroke-linejoin="round" stroke-linecap="round"/>
<!-- markers -->
<g stroke="#0b3a67" stroke-width="3" fill="none">
<line x1="161.2" y1="367" x2="161.2" y2="609.4"/>
<line x1="234.6" y1="341" x2="234.6" y2="609.4"/>
<line x1="289.8" y1="310" x2="289.8" y2="609.4"/>
<line x1="500.3" y1="302" x2="500.3" y2="609.4"/>
<line x1="829.6" y1="275.3" x2="829.6" y2="609.4"/>
</g>
<!-- frame -->
<rect x="102.3" y="9.6" width="807.1" height="599.8" fill="none" stroke="#0b3a67" stroke-width="3.4"/>
<!-- legend -->
<line x1="720.5" y1="53.1" x2="767.5" y2="53.1" stroke="#c91a40" stroke-width="5" stroke-linecap="round"/>
<line x1="720.5" y1="87.9" x2="767.5" y2="87.9" stroke="#06a74c" stroke-width="5" stroke-linecap="round"/>
<text x="783.8" y="61.2" textLength="58.8" lengthAdjust="spacingAndGlyphs">Limit</text>
<text x="783.8" y="97" textLength="82.8" lengthAdjust="spacingAndGlyphs">Margin</text>
<!-- class labels -->
<text x="142.0" y="167.1" textLength="91" lengthAdjust="spacingAndGlyphs">Class A</text>
<text x="142.0" y="235" textLength="90.5" lengthAdjust="spacingAndGlyphs">Class B</text>
<!-- marker numbers -->
<text x="161.9" y="343.0" text-anchor="middle">2</text>
<text x="234.3" y="305.8" text-anchor="middle">3</text>
<text x="289.8" y="293.4" text-anchor="middle">4</text>
<text x="500.1" y="287.8" text-anchor="middle">5</text>
<text x="829.8" y="263.1" text-anchor="middle">6</text>
<!-- y ticks -->
<text x="93" y="17.9" text-anchor="end">70</text>
<text x="93" y="320.3" text-anchor="end">20</text>
<text x="93" y="615.8" text-anchor="end">–30</text>
<!-- x ticks -->
<text x="102.8" y="643.6" text-anchor="middle">30</text>
<text x="183.5" y="643.6" text-anchor="middle">127</text>
<text x="264.2" y="643.6" text-anchor="middle">224</text>
<text x="344.9" y="643.6" text-anchor="middle">321</text>
<text x="425.6" y="643.6" text-anchor="middle">418</text>
<text x="506.4" y="643.6" text-anchor="middle">515</text>
<text x="587.1" y="643.6" text-anchor="middle">612</text>
<text x="667.8" y="643.6" text-anchor="middle">709</text>
<text x="748.5" y="643.6" text-anchor="middle">806</text>
<text x="909.9" y="643.6" text-anchor="middle">1000</text>
<!-- axis titles -->
<text x="369.7" y="679.3" textLength="213.7" lengthAdjust="spacingAndGlyphs">Frequency in MHz</text>
<text transform="translate(17.9 362.8) rotate(-90)" textLength="102.3" lengthAdjust="spacingAndGlyphs">dB µV/m</text>
<!-- watermark -->
<rect x="735" y="655" width="202" height="30" fill="#fcfcfc"/>
<text x="753" y="675.9" textLength="164" lengthAdjust="spacingAndGlyphs" style="font-weight:normal;font-size:19px;fill:#c6e7b9">www.cntronics.com</text>
</svg>
</body></html>
